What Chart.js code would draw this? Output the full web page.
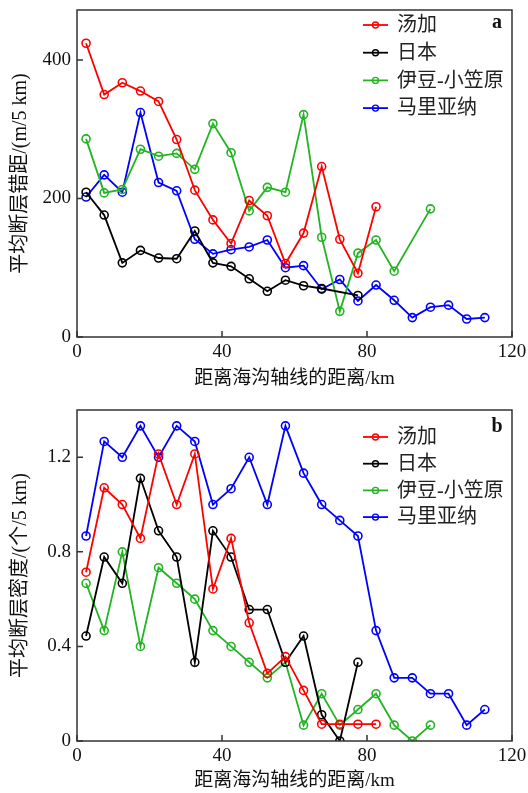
<!DOCTYPE html>
<html>
<head>
<meta charset="utf-8">
<script src="https://cdn.jsdelivr.net/npm/chart.js"></script>
<style>
    html, body { margin: 0; padding: 0; background: #fff; }
    canvas { display: block; }
</style>
</head>
<body>
<canvas id="chart-a" width="528" height="396"></canvas>
<canvas id="chart-b" width="528" height="397"></canvas>
<script>
// Bin centres (km from trench axis), 5 km bins
const distance = [2.5, 7.5, 12.5, 17.5, 22.5, 27.5, 32.5, 37.5, 42.5, 47.5, 52.5, 57.5,
    62.5, 67.5, 72.5, 77.5, 82.5, 87.5, 92.5, 97.5, 102.5, 107.5, 112.5];

const seriesNames = ['汤加', '日本', '伊豆-小笠原', '马里亚纳'];
const seriesColors = ['#ff0000', '#000000', '#22b422', '#0000ff'];

const xTicks = [0, 40, 80, 120];
const yTicksA = [0, 200, 400];
const yTicksB = [0, 0.4, 0.8, 1.2];

// a: mean fault offset (m / 5 km), null = no value in that bin
const offsetTonga = [424, 350, 367, 355, 340, 285, 212, 169, 135, 197, 175, 106, 150, 246, 141, 92, 188];
const offsetJapan = [209, 176, 107, 125, 114, 113, 153, 107, 102, 84, 66, 82, 74, 70, null, 60];
const offsetIzu = [286, 208, 213, 271, 261, 265, 242, 308, 266, 182, 216, 209, 321, 144, 37, 121, 140, 95, null, 185];
const offsetMariana = [202, 234, 209, 324, 223, 211, 141, 120, 126, 130, 140, 100, 103, 69, 83, 52, 75, 53, 28, 43, 46, 26, 28];

// b: mean fault density (count / 5 km)
const densityTonga = [0.714, 1.071, 1.0, 0.857, 1.214, 1.0, 1.214, 0.643, 0.857, 0.5, 0.286, 0.357, 0.214, 0.071, 0.071, 0.071, 0.071];
const densityJapan = [0.444, 0.778, 0.667, 1.111, 0.889, 0.778, 0.333, 0.889, 0.778, 0.556, 0.556, 0.333, 0.444, 0.111, 0, 0.333];
const densityIzu = [0.667, 0.467, 0.8, 0.4, 0.733, 0.667, 0.6, 0.467, 0.4, 0.333, 0.267, 0.333, 0.067, 0.2, 0.067, 0.133, 0.2, 0.067, 0, 0.067];
const densityMariana = [0.867, 1.267, 1.2, 1.333, 1.2, 1.333, 1.267, 1.0, 1.067, 1.2, 1.0, 1.333, 1.133, 1.0, 0.933, 0.867, 0.467, 0.267, 0.267, 0.2, 0.2, 0.067, 0.133];

const FONT = "'Liberation Serif', 'Noto Sans CJK SC', serif";

function toPoints(values) {
    return values.map((v, i) => ({ x: distance[i], y: v }));
}

function makeDatasets(seriesList) {
    return seriesList.map((values, i) => ({
        label: seriesNames[i],
        data: toPoints(values),
        borderColor: seriesColors[i],
        backgroundColor: seriesColors[i],
        borderWidth: 1.8,
        pointRadius: 4,
        pointBorderWidth: 1.6,
        pointBackgroundColor: 'rgba(0,0,0,0)',
        pointBorderColor: seriesColors[i],
        spanGaps: true,
        tension: 0
    }));
}

// Frame, inward ticks, legend and panel letter
const framePlugin = {
    id: 'frame',
    afterDraw(chart, args, opts) {
        const ctx = chart.ctx;
        const area = chart.chartArea;
        const xs = chart.scales.x;
        const ys = chart.scales.y;
        ctx.save();
        ctx.strokeStyle = '#333';
        ctx.lineWidth = 1.5;
        ctx.strokeRect(area.left, area.top, area.right - area.left, area.bottom - area.top);

        ctx.beginPath();
        xs.ticks.forEach(t => {
            const px = xs.getPixelForValue(t.value);
            ctx.moveTo(px, area.bottom);
            ctx.lineTo(px, area.bottom - 6);
        });
        ys.ticks.forEach(t => {
            const py = ys.getPixelForValue(t.value);
            ctx.moveTo(area.left, py);
            ctx.lineTo(area.left + 6, py);
        });
        ctx.stroke();

        // legend
        chart.data.datasets.forEach((ds, i) => {
            const y = opts.legendTop + i * opts.legendGap;
            ctx.strokeStyle = ds.borderColor;
            ctx.lineWidth = 1.8;
            ctx.beginPath();
            ctx.moveTo(363, y);
            ctx.lineTo(388, y);
            ctx.stroke();
            ctx.lineWidth = 1.4;
            ctx.beginPath();
            ctx.arc(375.5, y, 3, 0, Math.PI * 2);
            ctx.stroke();
            ctx.fillStyle = '#222';
            ctx.font = '20px ' + FONT;
            ctx.textAlign = 'left';
            ctx.textBaseline = 'middle';
            ctx.fillText(ds.label, 397, y + 1);
        });

        ctx.fillStyle = '#111';
        ctx.font = 'bold 20px ' + FONT;
        ctx.textAlign = 'center';
        ctx.textBaseline = 'middle';
        ctx.fillText(opts.letter, 497, opts.letterY);
        ctx.restore();
    }
};

function buildChart(canvasId, datasets, cfg) {
    const ctx = document.getElementById(canvasId).getContext('2d');
    return new Chart(ctx, {
        type: 'line',
        data: { datasets: datasets },
        options: {
            responsive: false,
            devicePixelRatio: 1,
            animation: false,
            layout: { padding: { top: cfg.padTop, right: 16, left: 0, bottom: 0 } },
            plugins: {
                legend: { display: false },
                tooltip: { enabled: false },
                frame: {
                    legendTop: cfg.legendTop,
                    legendGap: cfg.legendGap,
                    letter: cfg.letter,
                    letterY: cfg.letterY
                }
            },
            scales: {
                x: {
                    type: 'linear',
                    min: xTicks[0],
                    max: xTicks[xTicks.length - 1],
                    afterBuildTicks: s => { s.ticks = xTicks.map(v => ({ value: v })); },
                    afterFit: s => {
                        s.height = cfg.xHeight;
                        s.paddingLeft = 0;
                        s.paddingRight = 0;
                    },
                    grid: { display: false, drawTicks: false },
                    border: { display: false },
                    ticks: { color: '#111', font: { family: FONT, size: 19 }, padding: 4, maxRotation: 0 },
                    title: {
                        display: true,
                        text: '距离海沟轴线的距离/km',
                        color: '#111',
                        font: { family: FONT, size: 19 },
                        padding: { top: 0, bottom: cfg.xTitlePad }
                    }
                },
                y: {
                    type: 'linear',
                    min: 0,
                    max: cfg.yMax,
                    afterBuildTicks: s => { s.ticks = cfg.yTicks.map(v => ({ value: v })); },
                    afterFit: s => {
                        s.width = 77;
                        s.paddingTop = 0;
                        s.paddingBottom = 0;
                    },
                    grid: { display: false, drawTicks: false },
                    border: { display: false },
                    ticks: {
                        color: '#111',
                        font: { family: FONT, size: 19 },
                        padding: 6,
                        callback: v => String(v)
                    },
                    title: {
                        display: true,
                        text: cfg.yTitle,
                        color: '#111',
                        font: { family: FONT, size: 20 },
                        padding: { top: 9, bottom: 0 }
                    }
                }
            }
        },
        plugins: [framePlugin]
    });
}

buildChart('chart-a', makeDatasets([offsetTonga, offsetJapan, offsetIzu, offsetMariana]), {
    padTop: 10, xHeight: 59, xTitlePad: 6, yMax: 472, yTicks: yTicksA,
    yTitle: '平均断层错距/(m/5 km)',
    legendTop: 25, legendGap: 27.7, letter: 'a', letterY: 23
});

buildChart('chart-b', makeDatasets([densityTonga, densityJapan, densityIzu, densityMariana]), {
    padTop: 14, xHeight: 52, xTitlePad: 1, yMax: 1.4, yTicks: yTicksB,
    yTitle: '平均断层密度/(个/5 km)',
    legendTop: 41, legendGap: 26.7, letter: 'b', letterY: 31
});
</script>
</body>
</html>
